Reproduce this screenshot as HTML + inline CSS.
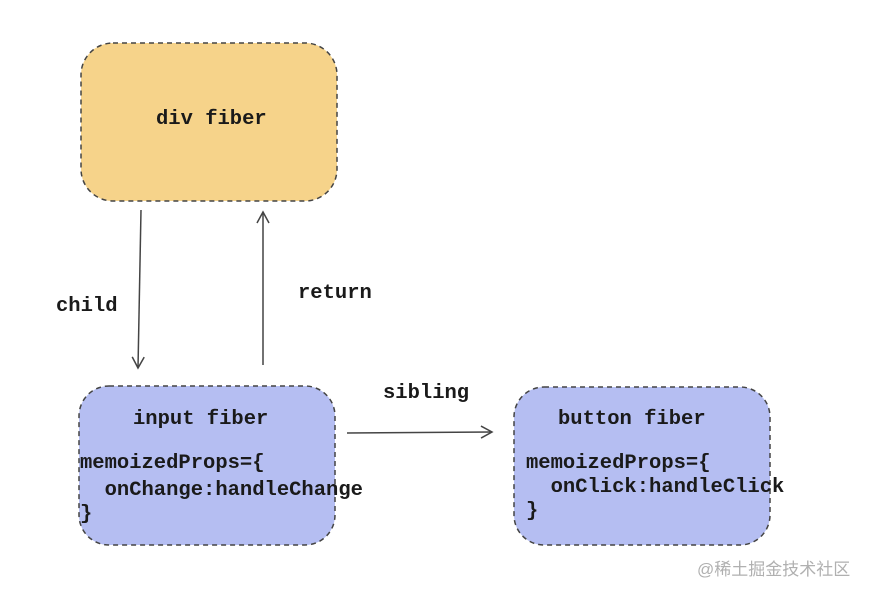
<!DOCTYPE html>
<html><head><meta charset="utf-8"><style>
html,body{margin:0;padding:0;background:#fff;width:876px;height:596px;overflow:hidden}
text{font-family:"Liberation Mono",monospace;font-weight:bold;fill:#1a1a1a;white-space:pre}
</style></head><body>
<svg width="876" height="596" viewBox="0 0 876 596" xmlns="http://www.w3.org/2000/svg" xml:space="preserve">
<defs>
<marker id="ah" markerWidth="14" markerHeight="14" refX="12" refY="7" orient="auto" markerUnits="userSpaceOnUse">
<path d="M1,1 L12,7 L1,13" fill="none" stroke="#444" stroke-width="1.5"/>
</marker>
</defs>
<rect x="81" y="43" width="256" height="158" rx="32" fill="#f6d38a" stroke="#444" stroke-width="1.5" stroke-dasharray="5,4"/>
<rect x="79" y="386" width="256" height="159" rx="30" fill="#b5bef2" stroke="#444" stroke-width="1.5" stroke-dasharray="5,4"/>
<rect x="514" y="387" width="256" height="158" rx="30" fill="#b5bef2" stroke="#444" stroke-width="1.5" stroke-dasharray="5,4"/>
<text x="156" y="124" font-size="20.5">div fiber</text>
<text x="133" y="424" font-size="20.5">input fiber</text>
<text x="80" y="468" font-size="20.5">memoizedProps={</text>
<text x="80" y="495" font-size="20.5">  onChange:handleChange</text>
<text x="80" y="519" font-size="20.5">}</text>
<text x="558" y="424" font-size="20.5">button fiber</text>
<text x="526" y="468" font-size="20.5">memoizedProps={</text>
<text x="526" y="492" font-size="20.5">  onClick:handleClick</text>
<text x="526" y="516" font-size="20.5">}</text>
<line x1="141" y1="210" x2="138" y2="368" stroke="#444" stroke-width="1.5" marker-end="url(#ah)"/>
<line x1="263" y1="365" x2="263" y2="212" stroke="#444" stroke-width="1.5" marker-end="url(#ah)"/>
<line x1="347" y1="433" x2="492" y2="432" stroke="#444" stroke-width="1.5" marker-end="url(#ah)"/>
<text x="56" y="311" font-size="20.5">child</text>
<text x="298" y="298" font-size="20.5">return</text>
<text x="383" y="398" font-size="20.5">sibling</text>
<text x="697" y="575" font-size="17" style="font-family:'Liberation Sans','Noto Sans CJK SC',sans-serif;font-weight:normal;fill:#b0b0b0">@稀土掘金技术社区</text>
</svg>
</body></html>
